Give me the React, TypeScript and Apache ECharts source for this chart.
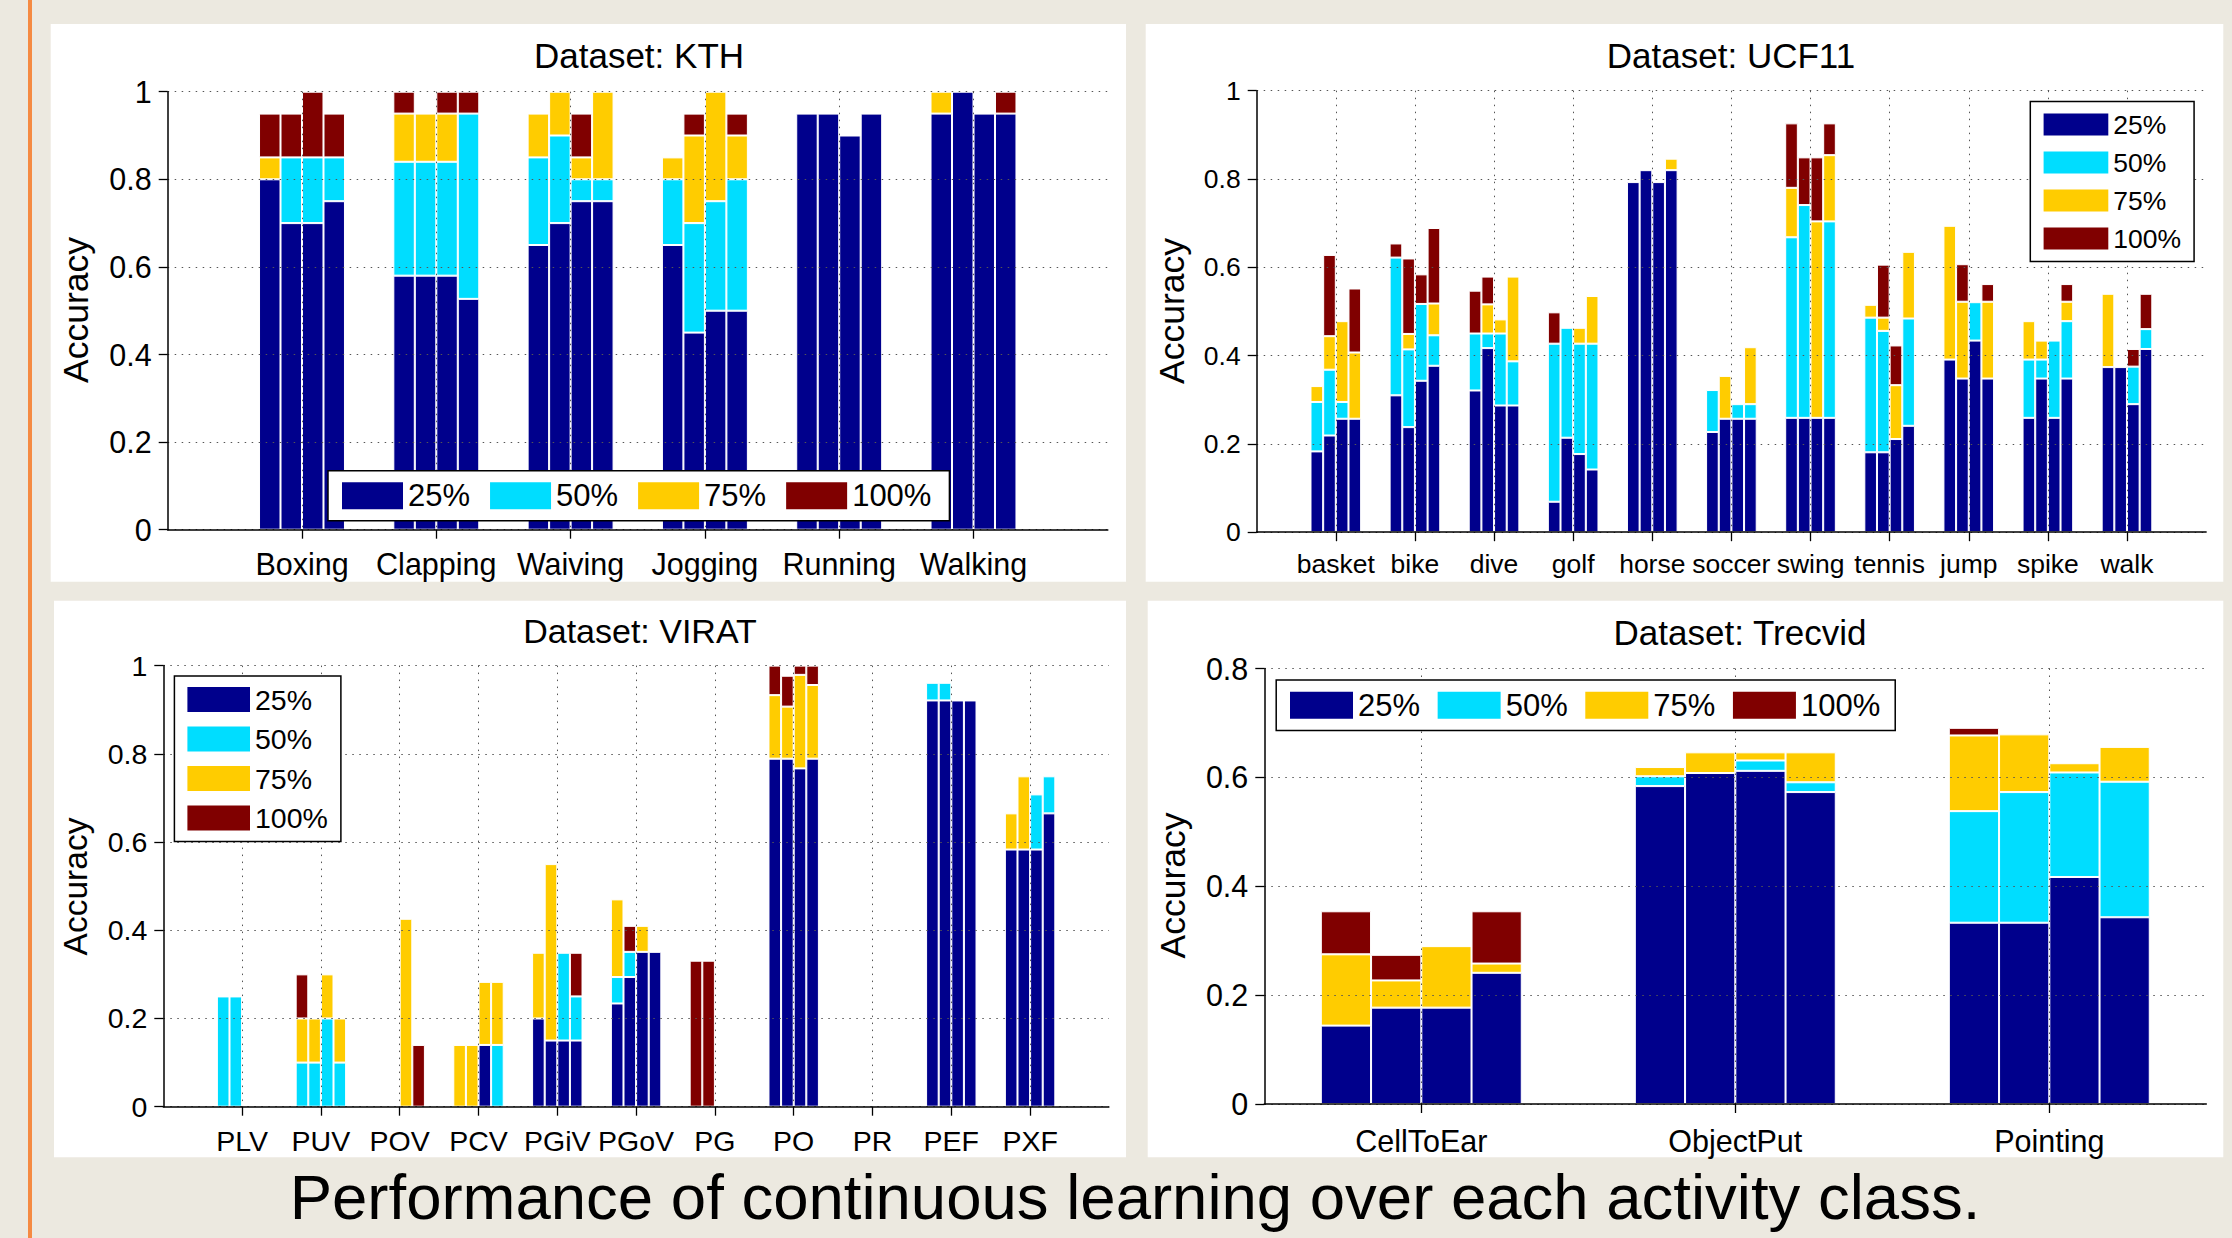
import { useEffect, useRef } from 'react';
import * as echarts from 'echarts';

// ---------- data ----------
const LEVELS = ['25%', '50%', '75%', '100%'];
const LEVEL_COLORS = ['#00008C', '#00DDFF', '#FFCC00', '#800000'];

// Each entry: one category, four bars. Value = top of that level's visible segment (null = not visible).
const KTH_CATS = ['Boxing', 'Clapping', 'Waiving', 'Jogging', 'Running', 'Walking'];
const KTH_25 = [[0.80, 0.70, 0.70, 0.75], [0.58, 0.58, 0.58, 0.527], [0.65, 0.70, 0.75, 0.75], [0.65, 0.45, 0.50, 0.50], [0.95, 0.95, 0.90, 0.95], [0.95, 1.0, 0.95, 0.95]];
const KTH_50 = [[null, 0.85, 0.85, 0.85], [0.84, 0.84, 0.84, 0.95], [0.85, 0.90, 0.80, 0.80], [0.80, 0.70, 0.75, 0.80], [null, null, null, null], [null, null, null, null]];
const KTH_75 = [[0.85, null, null, null], [0.95, 0.95, 0.95, null], [0.95, 1.0, 0.85, 1.0], [0.85, 0.90, 1.0, 0.90], [null, null, null, null], [1.0, null, null, null]];
const KTH_100 = [[0.95, 0.95, 1.0, 0.95], [1.0, null, 1.0, 1.0], [null, null, 0.95, null], [null, 0.95, null, 0.95], [null, null, null, null], [null, null, null, 1.0]];

const UCF_CATS = ['basket', 'bike', 'dive', 'golf', 'horse', 'soccer', 'swing', 'tennis', 'jump', 'spike', 'walk'];
const UCF_25 = [[0.183, 0.219, 0.257, 0.257], [0.310, 0.238, 0.343, 0.377], [0.321, 0.417, 0.287, 0.287], [0.069, 0.214, 0.177, 0.142], [0.793, 0.820, 0.793, 0.820], [0.227, 0.257, 0.257, 0.257], [0.259, 0.259, 0.259, 0.259], [0.181, 0.181, 0.211, 0.241], [0.391, 0.348, 0.434, 0.348], [0.259, 0.348, 0.259, 0.348], [0.374, 0.374, 0.290, 0.415]];
const UCF_50 = [[0.295, 0.368, 0.295, null], [0.622, 0.414, 0.517, 0.446], [0.450, 0.450, 0.450, 0.387], [0.427, 0.463, 0.427, 0.427], [null, null, null, null], [0.322, null, 0.290, 0.290], [0.668, 0.741, null, 0.704], [0.486, 0.456, null, 0.484], [null, null, 0.521, null], [0.391, 0.391, 0.434, 0.478], [null, null, 0.375, 0.460]];
const UCF_75 = [[0.331, 0.444, 0.478, 0.407], [null, 0.449, null, 0.518], [null, 0.516, 0.482, 0.579], [null, null, 0.463, 0.535], [null, null, null, 0.846], [null, 0.354, null, 0.419], [0.780, null, 0.704, 0.854], [0.515, 0.486, 0.333, 0.635], [0.694, 0.522, null, 0.522], [0.478, 0.434, null, 0.522], [0.540, null, null, null]];
const UCF_100 = [[null, 0.628, null, 0.552], [0.654, 0.620, 0.584, 0.689], [0.547, 0.579, null, null], [0.498, null, null, null], [null, null, null, null], [null, null, null, null], [0.926, 0.849, 0.849, 0.926], [null, 0.606, 0.423, null], [null, 0.607, null, 0.562], [null, null, null, 0.562], [null, null, 0.415, 0.540]];

const VIRAT_CATS = ['PLV', 'PUV', 'POV', 'PCV', 'PGiV', 'PGoV', 'PG', 'PO', 'PR', 'PEF', 'PXF'];
const VIRAT_25 = [[null, null, null, null], [null, null, null, null], [null, null, null, null], [null, null, 0.14, null], [0.20, 0.15, 0.15, 0.15], [0.234, 0.294, 0.351, 0.351], [null, null, null, null], [0.789, 0.789, 0.767, 0.789], [null, null, null, null], [0.921, 0.921, 0.921, 0.921], [0.583, 0.583, 0.583, 0.665]];
const VIRAT_50 = [[0.25, 0.25, null, null], [0.10, 0.10, 0.20, 0.10], [null, null, null, null], [null, null, null, 0.14], [null, null, 0.349, 0.25], [0.294, 0.351, null, null], [null, null, null, null], [null, null, null, null], [null, null, null, null], [0.961, 0.961, null, null], [null, null, 0.708, 0.749]];
const VIRAT_75 = [[null, null, null, null], [0.20, 0.20, 0.30, 0.20], [null, null, 0.426, null], [0.14, 0.14, 0.283, 0.283], [0.349, 0.55, null, null], [0.470, null, 0.41, null], [null, null, null, null], [0.933, 0.907, 0.979, 0.956], [null, null, null, null], [null, null, null, null], [0.665, 0.749, null, null]];
const VIRAT_100 = [[null, null, null, null], [0.30, null, null, null], [null, null, null, 0.14], [null, null, null, null], [null, null, null, 0.349], [null, 0.41, null, null], [0.331, 0.331, null, null], [1.0, 0.977, 1.0, 1.0], [null, null, null, null], [null, null, null, null], [null, null, null, null]];

const TREC_CATS = ['CellToEar', 'ObjectPut', 'Pointing'];
const TREC_25 = [[0.144, 0.177, 0.177, 0.241], [0.584, 0.608, 0.612, 0.573], [0.333, 0.333, 0.417, 0.343]];
const TREC_50 = [[null, null, null, null], [0.602, null, 0.631, 0.591], [0.538, 0.573, 0.609, 0.592]];
const TREC_75 = [[0.275, 0.227, 0.290, 0.258], [0.619, 0.646, 0.646, 0.646], [0.677, 0.679, 0.626, 0.656]];
const TREC_100 = [[0.354, 0.274, null, 0.354], [null, null, null, null], [0.691, null, null, null]];

const Y_MAX = [1, 1, 1, 0.8];
const Y_STEP = 0.2;

const TITLES = ['Dataset: KTH', 'Dataset: UCF11', 'Dataset: VIRAT', 'Dataset: Trecvid'];
const Y_NAME = 'Accuracy';
const CAPTION = 'Performance of continuous learning over each activity class.';

// ---------- layout ----------
const FONT = '"Liberation Sans", Arial, Helvetica, sans-serif';

type Panel = {
  cats: string[];
  levels: (number | null)[][][];
  layout: 'edge' | 'half';
  box: [number, number, number, number];
  grid: { left: number; top: number; width: number; height: number };
  font: number;
  xMargin: number;
  titlePos: [number, number];
  titleSize: number;
  ylabPos: [number, number];
  ylabSize: number;
  legend: any;
};

const PANELS: Panel[] = [
  {
    cats: KTH_CATS, levels: [KTH_25, KTH_50, KTH_75, KTH_100], layout: 'edge',
    box: [50.7, 24, 1126, 581.7],
    grid: { left: 167.7, top: 91.7, width: 940.1, height: 438 },
    font: 30.5, xMargin: 19, titlePos: [639, 55], titleSize: 35, ylabPos: [76, 310], ylabSize: 35.5,
    legend: { orient: 'horizontal', left: 328, top: 470.7, itemWidth: 61, itemHeight: 27, itemGap: 20, padding: [9.5, 18, 9.5, 14], fontSize: 31 },
  },
  {
    cats: UCF_CATS, levels: [UCF_25, UCF_50, UCF_75, UCF_100], layout: 'edge',
    box: [1145.7, 24, 2223.3, 581.7],
    grid: { left: 1256.7, top: 90.7, width: 949.4, height: 441.5 },
    font: 26.5, xMargin: 18, titlePos: [1731, 55], titleSize: 35, ylabPos: [1171.5, 311], ylabSize: 35.5,
    legend: { orient: 'vertical', left: 2030.3, top: 101.4, itemWidth: 64.7, itemHeight: 22, itemGap: 11, padding: [9.6, 13, 9.6, 13.3], fontSize: 26.5 },
  },
  {
    cats: VIRAT_CATS, levels: [VIRAT_25, VIRAT_50, VIRAT_75, VIRAT_100], layout: 'edge',
    box: [54, 600.7, 1126, 1157.3],
    grid: { left: 163.3, top: 665.6, width: 945.6, height: 441.1 },
    font: 28.5, xMargin: 20, titlePos: [640, 631], titleSize: 34, ylabPos: [75, 886.5], ylabSize: 33.5,
    legend: { orient: 'vertical', left: 174.4, top: 676, itemWidth: 62.6, itemHeight: 24.8, itemGap: 10.5, padding: [9, 13, 9, 13], fontSize: 28.5 },
  },
  {
    cats: TREC_CATS, levels: [TREC_25, TREC_50, TREC_75, TREC_100], layout: 'half',
    box: [1147.7, 600.7, 2223.3, 1157.3],
    grid: { left: 1264.3, top: 668.5, width: 942, height: 435.5 },
    font: 30.5, xMargin: 21, titlePos: [1740, 632], titleSize: 35, ylabPos: [1173, 885.4], ylabSize: 35.5,
    legend: { orient: 'horizontal', left: 1276.2, top: 680, itemWidth: 63, itemHeight: 27, itemGap: 17.6, padding: [9.7, 15, 9.7, 13.8], fontSize: 31 },
  },
];

function slotNames(p: Panel): string[] {
  if (p.layout === 'edge') return ['', ...p.cats, ''];
  const out = [''];
  p.cats.forEach((c) => out.push(c, ''));
  return out;
}
function slotIndex(p: Panel, c: number) {
  return p.layout === 'edge' ? c + 1 : 2 * c + 1;
}

// visible segment height of level L for bar j (overlaid bars drawn as stacked visible parts)
function segments(levels: (number | null)[][][], L: number, j: number) {
  return levels[L].map((bars, c) => {
    const top = bars[j];
    if (top == null) return null;
    let base = 0;
    for (let k = 0; k < L; k++) {
      const v = levels[k][c][j];
      if (v != null && v > base) base = v;
    }
    return top > base ? Math.round((top - base) * 10000) / 10000 : null;
  });
}

const GRID_DOT = { type: [1.5, 5.5] as any, color: '#555', width: 1 };
const notBlank = (_i: number, v: string) => v !== '';

function buildOption() {
  const grid: any[] = [];
  const xAxis: any[] = [];
  const yAxis: any[] = [];
  const legend: any[] = [];
  const series: any[] = [];
  const graphic: any[] = [];

  graphic.push({ type: 'rect', z: -2, silent: true, shape: { x: 28, y: 0, width: 4, height: 1238 }, style: { fill: '#F58A42' } });

  PANELS.forEach((p, pi) => {
    const names = slotNames(p);
    const spacing = p.layout === 'edge' ? p.grid.width / (p.cats.length + 1) : p.grid.width / p.cats.length;
    const barWidth = spacing * 0.16;

    graphic.push({
      type: 'rect', z: -1, silent: true,
      shape: { x: p.box[0], y: p.box[1], width: p.box[2] - p.box[0], height: p.box[3] - p.box[1] },
      style: { fill: '#ffffff' },
    });
    graphic.push({
      type: 'text', x: p.titlePos[0], y: p.titlePos[1], silent: true,
      style: { text: TITLES[pi], fontSize: p.titleSize, fontFamily: FONT, fill: '#000', align: 'center', verticalAlign: 'middle', textAlign: 'center', textVerticalAlign: 'middle' },
    });
    graphic.push({
      type: 'text', x: p.ylabPos[0], y: p.ylabPos[1], rotation: Math.PI / 2, silent: true,
      style: { text: Y_NAME, fontSize: p.ylabSize, fontFamily: FONT, fill: '#000', align: 'center', verticalAlign: 'middle', textAlign: 'center', textVerticalAlign: 'middle' },
    });

    grid.push({ ...p.grid, containLabel: false });
    xAxis.push({
      type: 'category', gridIndex: pi, data: names, boundaryGap: false, z: 3,
      axisLine: { show: true, lineStyle: { color: '#000', width: 1.5 } },
      axisTick: { show: true, length: 9, interval: notBlank, lineStyle: { color: '#000', width: 1.3 } },
      axisLabel: { interval: 0, color: '#000', fontSize: p.font, fontFamily: FONT, margin: p.xMargin },
      splitLine: { show: true, interval: notBlank, lineStyle: GRID_DOT },
    });
    yAxis.push({
      type: 'value', gridIndex: pi, min: 0, max: Y_MAX[pi], interval: Y_STEP, z: 3,
      axisLine: { show: true, lineStyle: { color: '#000', width: 1.5 } },
      axisTick: { show: true, length: 9, lineStyle: { color: '#000', width: 1.3 } },
      axisLabel: {
        color: '#000', fontSize: p.font, fontFamily: FONT, margin: 16,
        formatter: (v: number) => String(Math.round(v * 10) / 10),
      },
      splitLine: { show: true, lineStyle: GRID_DOT },
    });
    legend.push({
      orient: p.legend.orient, left: p.legend.left, top: p.legend.top,
      itemWidth: p.legend.itemWidth, itemHeight: p.legend.itemHeight, itemGap: p.legend.itemGap,
      padding: p.legend.padding, icon: 'rect', selectedMode: false, z: 10,
      backgroundColor: '#fff', borderColor: '#000', borderWidth: 1.5, borderRadius: 0,
      itemStyle: { borderWidth: 0 },
      textStyle: { fontSize: p.legend.fontSize, fontFamily: FONT, color: '#000', lineHeight: p.legend.itemHeight },
      data: LEVELS.map((n) => ({ name: n, icon: 'rect' })),
    });

    for (let j = 0; j < 4; j++) {
      for (let L = 0; L < 4; L++) {
        const seg = segments(p.levels, L, j);
        const data: (number | null)[] = names.map(() => null);
        seg.forEach((v, c) => { data[slotIndex(p, c)] = v; });
        series.push({
          type: 'bar', name: LEVELS[L], xAxisIndex: pi, yAxisIndex: pi,
          stack: `p${pi}b${j}`, data, barWidth, barGap: '0%',
          itemStyle: { color: LEVEL_COLORS[L], borderColor: '#ffffff', borderWidth: 1 },
          emphasis: { disabled: true }, silent: true,
        });
      }
    }
  });

  graphic.push({
    type: 'text', x: 1135, y: 1197, silent: true,
    style: { text: CAPTION, fontSize: 63.5, fontFamily: FONT, fill: '#000', align: 'center', verticalAlign: 'middle', textAlign: 'center', textVerticalAlign: 'middle' },
  });

  return {
    animation: false,
    backgroundColor: '#ECE9E0',
    grid, xAxis, yAxis, legend, series, graphic,
  };
}

export default function App() {
  const ref = useRef<HTMLDivElement>(null);
  useEffect(() => {
    document.body.style.margin = '0';
    document.body.style.overflow = 'hidden';
    const chart = echarts.init(ref.current!, undefined, { renderer: 'svg' });
    chart.setOption(buildOption() as any);
    return () => chart.dispose();
  }, []);
  return <div ref={ref} style={{ position: 'absolute', left: 0, top: 0, width: 2232, height: 1238 }} />;
}
